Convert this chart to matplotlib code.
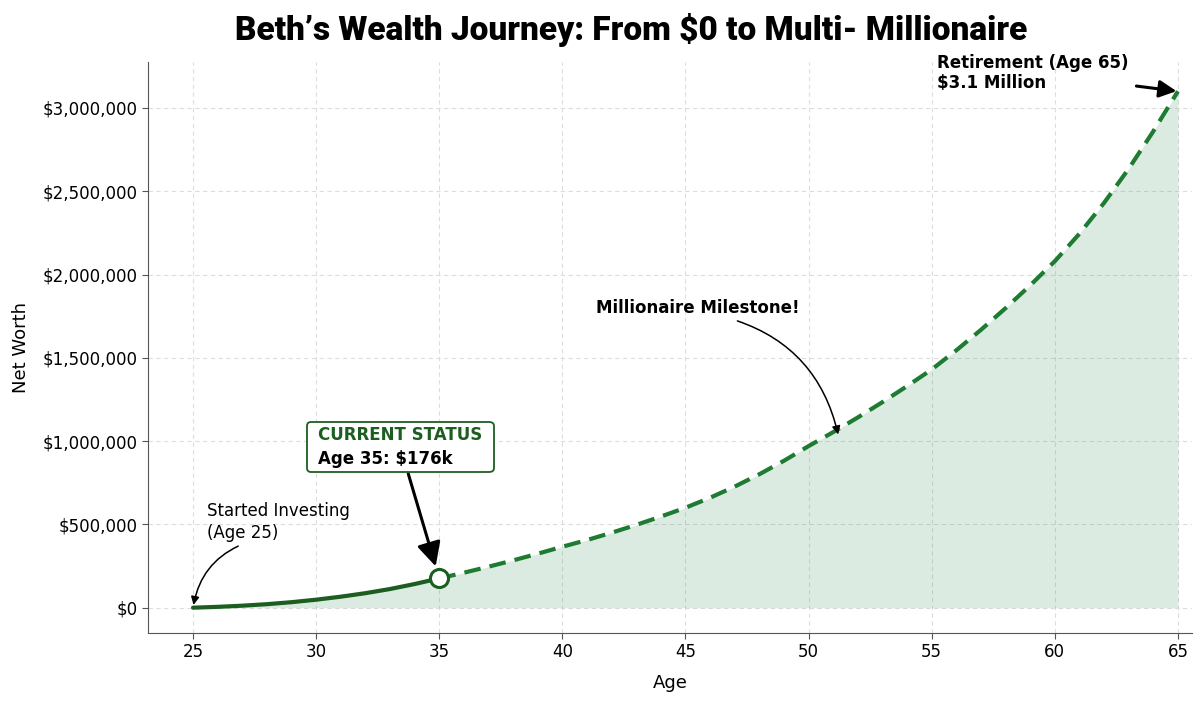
import matplotlib
matplotlib.use("Agg")
import matplotlib.pyplot as plt
from matplotlib.ticker import FuncFormatter, MultipleLocator
from matplotlib.offsetbox import TextArea, VPacker, HPacker, DrawingArea, AnnotationBbox

# net worth by age (dollars)
ages_past = [25, 26, 27, 28, 29, 30, 31, 32, 33, 34, 35]
worth_past = [0, 5000, 12000, 21000, 33000, 48000, 66000, 87000, 112000, 142000, 176000]

ages_future = [35, 36, 37, 38, 39, 40, 41, 42, 43, 44, 45, 46, 47, 48, 49, 50,
               51, 52, 53, 54, 55, 56, 57, 58, 59, 60, 61, 62, 63, 64, 65]
worth_future = [176000, 210000, 246000, 284000, 324000, 366000, 406000, 450000,
                497000, 547000, 600000, 660000, 727000, 801000, 882000, 970000,
                1054000, 1142000, 1234000, 1330000, 1430000, 1545000, 1668000,
                1798000, 1935000, 2080000, 2245000, 2430000, 2635000, 2860000, 3100000]

x_ticks = [25, 30, 35, 40, 45, 50, 55, 60, 65]

dark_green = "#1b5e20"
dash_green = "#1e7b32"
fill_green = "#2e8b57"

fig = plt.figure(figsize=(12, 7.01), dpi=100)
ax = fig.add_axes([0.1233, 0.097, 0.870, 0.8146])

all_ages = ages_past + ages_future[1:]
all_worth = worth_past + worth_future[1:]
ax.fill_between(all_ages, all_worth, 0, color=fill_green, alpha=0.17, lw=0)

ax.plot(ages_past, worth_past, color=dark_green, lw=3, solid_capstyle="round")
ax.plot(ages_future, worth_future, color=dash_green, lw=3, ls=(0, (4, 2.2)))
ax.plot([35], [176000], "o", ms=13, mfc="white", mec=dark_green, mew=2.2, zorder=5)

ax.set_xlim(23.17, 65.57)
ax.set_ylim(-152000, 3276000)
ax.set_xticks(x_ticks)
ax.yaxis.set_major_locator(MultipleLocator(500000))
ax.yaxis.set_major_formatter(FuncFormatter(lambda v, p: f"${v:,.0f}"))
ax.tick_params(labelsize=12, color="#555555", length=4)
ax.grid(True, ls=(0, (4, 3)), color="#dddddd", lw=0.8)
ax.set_axisbelow(True)
for s in ["top", "right"]:
    ax.spines[s].set_visible(False)
for s in ["left", "bottom"]:
    ax.spines[s].set_color("#555555")

ax.set_xlabel("Age", fontsize=13, labelpad=9)
ax.set_ylabel("Net Worth", fontsize=13, labelpad=9)

fig.text(0.526, 0.957, "Beth\u2019s Wealth Journey: From $0 to Multi- Millionaire",
         ha="center", va="center", fontsize=24, family="Roboto", weight="black")

big_head = dict(arrowstyle="-|>,head_length=0.8,head_width=0.4",
                color="black", lw=2.2, mutation_scale=13)

# annotations
ax.annotate("Started Investing\n(Age 25)", xy=(25, 0), xytext=(25.55, 515000),
            fontsize=12, ha="left", va="center", linespacing=1.25,
            arrowprops=dict(arrowstyle="-|>", color="black", lw=1.1, relpos=(0.3, 0),
                            connectionstyle="arc3,rad=0.3", shrinkA=3, shrinkB=2))

line1 = TextArea("CURRENT STATUS",
                 textprops=dict(color=dark_green, weight="bold", fontsize=12))
line2 = TextArea("Age 35: $176k",
                 textprops=dict(color="black", weight="bold", fontsize=12))
status = VPacker(children=[line1, line2], align="left", pad=0, sep=4)
status = HPacker(children=[DrawingArea(5, 1), status, DrawingArea(5, 1)],
                 align="center", pad=0, sep=0)
ab = AnnotationBbox(status, xy=(35, 176000), xybox=(29.8, 966000),
                    xycoords="data", boxcoords="data", box_alignment=(0, 0.5),
                    bboxprops=dict(boxstyle="round,pad=0.3", fc="white",
                                   ec=dark_green, lw=1.3),
                    arrowprops=dict(big_head, shrinkA=1, shrinkB=9))
ax.add_artist(ab)

ax.annotate("Millionaire Milestone!", xy=(51.2, 1040000), xytext=(41.35, 1800000),
            fontsize=12, weight="bold", ha="left", va="center",
            arrowprops=dict(arrowstyle="-|>", color="black", lw=1.1, relpos=(0.63, 0),
                            connectionstyle="arc3,rad=-0.3", shrinkA=3, shrinkB=0))

ax.annotate("Retirement (Age 65)\n$3.1 Million", xy=(65, 3100000), xytext=(55.2, 3210000),
            fontsize=12, weight="bold", ha="left", va="center", linespacing=1.2,
            arrowprops=dict(big_head, shrinkA=4, shrinkB=1))

fig.savefig("out.png", dpi=100)
